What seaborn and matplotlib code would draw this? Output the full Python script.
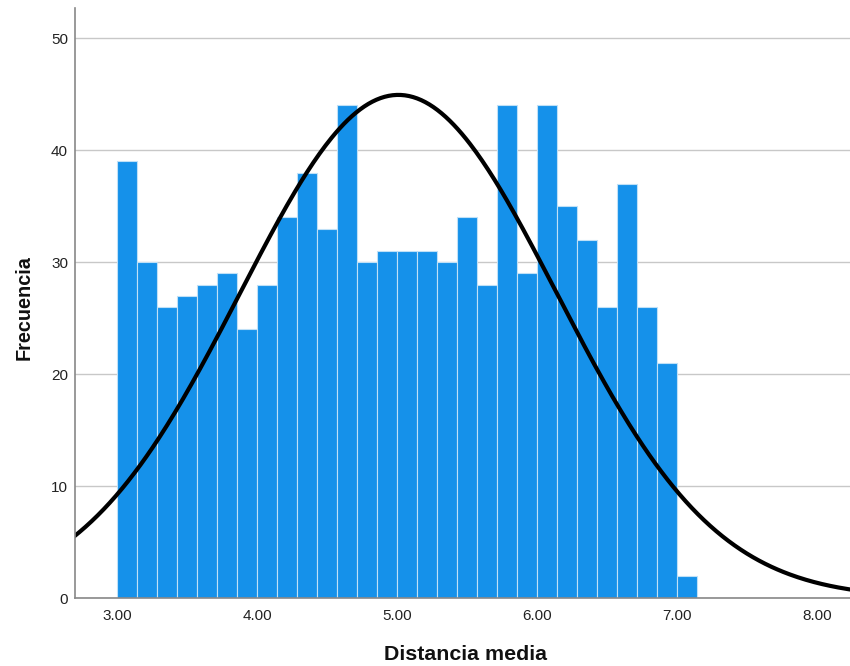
import numpy as np
import pandas as pd
import matplotlib
matplotlib.use("Agg")
import matplotlib.pyplot as plt
import seaborn as sns

# Data
bin_start = 3.0
bin_width = 1 / 7
counts = [39, 30, 26, 27, 28, 29, 24, 28, 34, 38, 33, 44, 30, 31, 31,
          31, 30, 34, 28, 44, 29, 44, 35, 32, 26, 37, 26, 21, 2]
curve_mean = 5.01
curve_sd = 1.13
x_ticks = [3.0, 4.0, 5.0, 6.0, 7.0, 8.0]
x_tick_labels = ["3.00", "4.00", "5.00", "6.00", "7.00", "8.00"]
y_ticks = [0, 10, 20, 30, 40, 50]

sns.set_theme(style="white")
plt.rcParams['font.family'] = ['Liberation Sans', 'DejaVu Sans']

n_bins = len(counts)
edges = bin_start + bin_width * np.arange(n_bins + 1)
centers = (edges[:-1] + edges[1:]) / 2
df = pd.DataFrame({"x": centers, "w": counts})

fig = plt.figure(figsize=(8.5, 6.66), dpi=100)
ax = fig.add_axes([75 / 850, 68 / 666, 775 / 850, 590 / 666])

ax.yaxis.grid(True, color="#c8c8c8", linewidth=1)
ax.set_axisbelow(True)

sns.histplot(data=df, x="x", weights="w", binwidth=bin_width,
             binrange=(edges[0], edges[-1]), ax=ax,
             color="#1591ea", edgecolor="#bfe0f7", linewidth=0.8, alpha=1)

N = sum(counts)
xs = np.linspace(2.6, 8.4, 400)
ys = N * bin_width * np.exp(-0.5 * ((xs - curve_mean) / curve_sd) ** 2) / (curve_sd * np.sqrt(2 * np.pi))
sns.lineplot(x=xs, y=ys, ax=ax, color="black", linewidth=3)

ax.set_xlim(2.7, 8.236)
ax.set_ylim(0, 52.7)
ax.set_xticks(x_ticks)
ax.set_xticklabels(x_tick_labels)
ax.set_yticks(y_ticks)
ax.tick_params(axis="both", length=0, labelsize=11, colors="#222222")
ax.tick_params(axis="x", pad=8)
ax.tick_params(axis="y", pad=5)

for s in ["top", "right"]:
    ax.spines[s].set_visible(False)
for s in ["left", "bottom"]:
    ax.spines[s].set_color("#888888")
    ax.spines[s].set_linewidth(1.2)

ax.set_xlabel("Distancia media", fontsize=15.4, fontweight="bold", color="#111111")
ax.set_ylabel("Frecuencia", fontsize=14.3, fontweight="bold", color="#111111")
ax.xaxis.set_label_coords(0.5045, -0.095)
ax.yaxis.set_label_coords(-0.066, 0.492)
ax.xaxis.label.set_va("center")
ax.yaxis.label.set_va("center")

fig.savefig("out.png", dpi=100)
